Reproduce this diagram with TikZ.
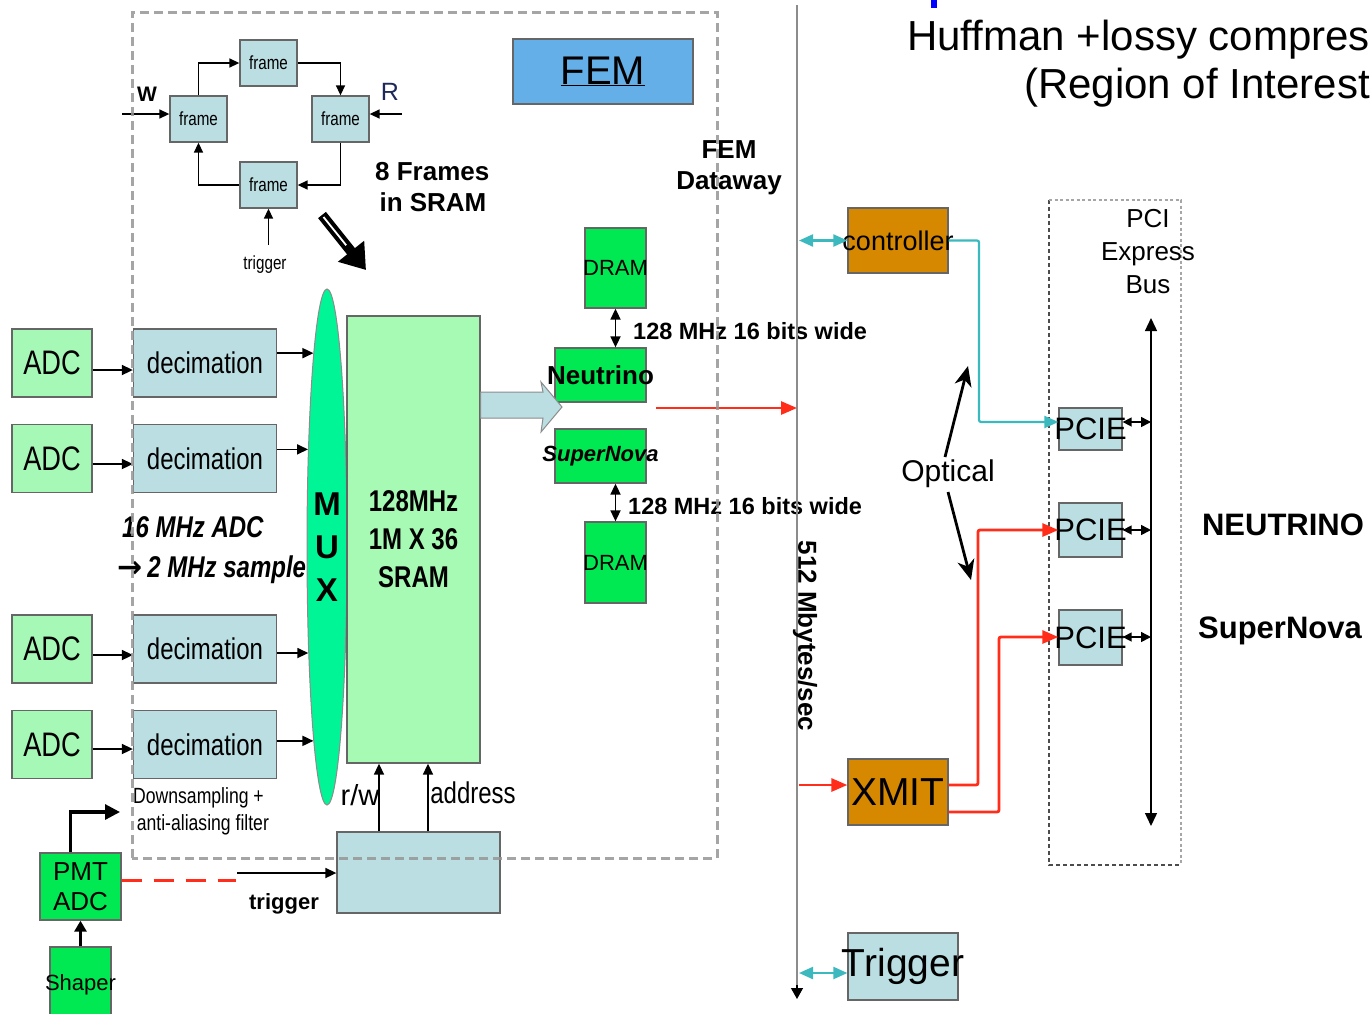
\documentclass[tikz,border=0pt]{standalone}
\usepackage{fontspec}
\setmainfont{Liberation Sans}
\newfontfamily\narrow[FakeStretch=0.8]{Liberation Sans}
\newfontfamily\dejavu{DejaVu Sans}
\usetikzlibrary{arrows.meta,shapes.geometric,calc}
\definecolor{adcg}{RGB}{166,248,182}
\definecolor{decb}{RGB}{186,222,226}
\definecolor{muxg}{RGB}{0,245,150}
\definecolor{sramg}{RGB}{166,250,180}
\definecolor{brg}{RGB}{0,232,82}
\definecolor{femb}{RGB}{100,175,232}
\definecolor{orn}{RGB}{214,136,0}
\definecolor{tealc}{RGB}{60,185,190}
\definecolor{redc}{RGB}{255,45,25}
\definecolor{dashg}{RGB}{150,150,150}
\newcommand{\fs}[2]{\fontsize{#1}{#2}\selectfont}
\newcommand{\ov}[1]{\makebox[0pt]{#1}}
\begin{document}
\begin{tikzpicture}[x=1pt,y=-1pt,
  bx/.style={draw=black!60, line width=1.3pt, inner sep=0pt, align=center, text=black},
  fr/.style={bx, fill=decb, minimum width=57pt, minimum height=46pt, font=\narrow\fs{19}{22}},
  adc/.style={bx, fill=adcg, minimum width=80pt, minimum height=68pt, font=\narrow\fs{34}{38}},
  dec/.style={bx, fill=decb, minimum width=143pt, minimum height=68pt, font=\narrow\fs{30}{34}},
  grn/.style={bx, fill=brg},
  org/.style={bx, fill=orn},
  pcie/.style={bx, fill=decb, minimum width=63pt, font=\fs{31}{34}},
  lbl/.style={inner sep=0pt, align=center, text=black},
  arr/.style={line width=1.7pt, -{Triangle[length=11pt,width=10pt]}},
  farr/.style={line width=1.5pt, -{Triangle[length=10pt,width=9pt]}},
  darr/.style={line width=1.7pt, {Triangle[length=11pt,width=10pt]}-{Triangle[length=11pt,width=10pt]}},
  sdarr/.style={line width=1.5pt, {Triangle[length=9pt,width=9pt]}-{Triangle[length=10pt,width=10pt]}},
  tarr/.style={line width=2.2pt, draw=tealc, -{Triangle[length=14pt,width=12pt]}},
  tdarr/.style={line width=2.2pt, draw=tealc, {Triangle[length=14pt,width=12pt]}-{Triangle[length=14pt,width=12pt]}},
  rarr/.style={line width=2.8pt, draw=redc, -{Triangle[length=16pt,width=13pt]}},
  oarr/.style={line width=2.8pt, -{Stealth[length=20pt,width=17pt,inset=6pt]}}
]
\useasboundingbox[fill=white] (0,0) rectangle (1370,1013);

% top right text
\fill[blue] (931,0) rectangle (937,8);
\node[lbl, anchor=base east, font=\fs{42}{46}] (huf1) at (1370,50) {Huffman +lossy compres};
\node[lbl, anchor=base east, font=\fs{42}{46}] (huf2) at (1370,98) {(Region of Interest};

% FEM
\node[bx, fill=femb, minimum width=180pt, minimum height=65pt, font=\fs{40}{44}] (fem) at (603,71.5) {\underline{FEM}};

% frame ring
\node[fr] (frT) at (268.5,63) {frame};
\node[fr] (frL) at (198.5,119) {frame};
\node[fr] (frR) at (340.5,119) {frame};
\node[fr] (frB) at (268.5,185) {frame};
\draw[farr] (frL.north) |- (frT.west);
\draw[farr] (frT.east) -| (frR.north);
\draw[farr] (frR.south) |- (frB.east);
\draw[farr] (frB.west) -| (frL.south);
\coordinate (win) at (122,114);
\coordinate (rin) at (402,114);
\draw[farr] (win) -- (frL.west |- win);
\draw[farr] (rin) -- (frR.east |- rin);
\node[lbl, font=\bfseries\fs{21}{24}] (wl) at (147,94) {W};
\node[lbl, font=\fs{25}{28}, text={rgb,255:red,30;green,40;blue,90}] (rl) at (390,92) {R};
\node[lbl, font=\narrow\fs{19}{22}] (trig1) at (265,265) {trigger};
\draw[farr] (frB.south |- 0,245) -- (frB.south);
\node[lbl, anchor=west, align=left, font=\bfseries\fs{26}{31}] (frames) at (375,187) {8 Frames\\\,in SRAM};
% big arrow
\coordinate (ba1) at (322,215);
\coordinate (ba2) at (366,270);
\draw[line width=10pt, -{Triangle[length=24pt,width=32pt]}] (ba1) -- (ba2);
\draw[white, line width=1.8pt] ($(ba1)+(1.5,2)$) -- ($(ba1)!0.55!(ba2)$);

% ADC and decimation
\foreach \i/\y/\ya/\yb in {1/363/370/370, 2/458.5/464/452, 3/649/655/655, 4/744.5/749/738}{
  \node[adc] (adc\i) at (52,\y) {ADC};
  \node[dec] (dec\i) at (205,\y) {decimation};
  \draw[arr] (adc\i.east |- 0,\ya) -- (dec\i.west |- 0,\ya);
}
% MUX
\node[ellipse, draw=black!45, line width=1pt, fill=muxg, minimum width=40pt, minimum height=516pt, inner sep=0pt, align=center, font=\bfseries\fs{33}{43}] (mux) at (327,547) {M\\U\\X};
\draw[arr] (dec1.east |- mux.94.72) -- (mux.94.72);
\draw[arr] (dec2.east |- mux.101.1) -- (mux.101.1);
\draw[arr] (dec3.east |- mux.260.4) -- (mux.260.4);
\draw[arr] (dec4.east |- mux.266) -- (mux.266);

% SRAM
\node[bx, fill=sramg, minimum width=133pt, minimum height=447pt, font=\narrow\bfseries\fs{30}{38}] (sram) at (413.5,539.5) {128MHz\\1M X 36\\SRAM};

% labels
\node[lbl, anchor=west, align=left, font=\narrow\bfseries\itshape\fs{30}{40}] (mhz) at (117,550) {\,16 MHz ADC\\{\dejavu\fs{30}{30}→}\,2 MHz sample};
\node[lbl, anchor=west, align=left, font=\narrow\fs{22}{27}] (down) at (133,811) {Downsampling +\\\,anti-aliasing filter};

% DRAM / Neutrino / SuperNova
\node[grn, minimum width=61pt, minimum height=80pt, font=\fs{22}{24}] (dram1) at (615.5,268) {\ov{DRAM}};
\node[grn, minimum width=91pt, minimum height=54pt, font=\bfseries\fs{26}{28}] (neut) at (600.5,375) {\ov{Neutrino}};
\node[grn, minimum width=91pt, minimum height=54pt, font=\bfseries\itshape\fs{22}{24}] (sn) at (600.5,456) {\ov{SuperNova}};
\node[grn, minimum width=61pt, minimum height=81pt, font=\fs{22}{24}] (dram2) at (615.5,562.5) {\ov{DRAM}};
\draw[darr] (dram1.south) -- (dram1.south |- neut.north);
\draw[darr] (dram2.north |- sn.south) -- (dram2.north);
\node[lbl, anchor=west, font=\bfseries\fs{23.5}{26}] (bw1) at (633,331) {128 MHz 16 bits wide};
\node[lbl, anchor=west, font=\bfseries\fs{23.5}{26}] (bw2) at (628,506) {128 MHz 16 bits wide};

% block arrow SRAM -> Neutrino
\draw[draw=black!45, line width=1pt, fill=decb] (sram.east |- 0,392) -- (543,392) -- (541,382) -- (562,407) -- (541,432) -- (543,418) -- (sram.east |- 0,418) -- cycle;

% FEM dataway and vertical bus
\node[lbl, font=\bfseries\fs{26}{31}] (dw) at (729,168) {FEM\\Dataway};
\coordinate (vt) at (797,5);
\coordinate (vb) at (797,999);
\draw[line width=2.6pt, draw=black!45] (vt) -- ($(vb)+(0,-10)$);
\draw[line width=1.2pt, -{Triangle[length=11pt,width=12pt]}] ($(vb)+(0,-14)$) -- (vb);
\node[lbl, rotate=-90, font=\bfseries\fs{26}{28}] (mbs) at (805,636) {512 Mbytes/sec};
\coordinate (nr) at (656,408);
\draw[rarr] (nr) -- (nr -| vt);

% right side
\node[org, minimum width=100pt, minimum height=65pt, font=\fs{27}{30}] (ctrl) at (898,240.5) {\ov{controller}};
\node[org, minimum width=100pt, minimum height=66pt, font=\fs{39}{42}] (xmit) at (898,792) {XMIT};
\node[bx, fill=decb, minimum width=110pt, minimum height=67pt, font=\fs{39}{42}] (trigb) at (903,966.5) {\ov{Trigger}};
\draw[tdarr] ($(vt |- ctrl.west)+(2,0)$) -- (ctrl.west);
\draw[tdarr] ($(vt |- 0,973)+(2,0)$) -- (trigb.west |- 0,973);
\draw[rarr] ($(vt |- 0,785)+(2,0)$) -- (xmit.west |- 0,785);

% PCI express bus
\draw[line width=1.4pt, draw=black!70, dash pattern=on 4pt off 3pt] (1049,200) -- (1049,865) -- (1181,865);
\draw[line width=2.4pt, draw=black!35, dash pattern=on 3pt off 2.5pt] (1049,200) -- (1181,200) -- (1181,865);
\node[lbl, font=\fs{26}{33}] (pcib) at (1148,252) {PCI\\Express\\Bus};
\coordinate (bt) at (1151,318);
\coordinate (bb) at (1151,826);
\draw[line width=1.4pt, {Triangle[length=13pt,width=12pt]}-{Triangle[length=13pt,width=12pt]}] (bt) -- (bb);
\node[pcie, minimum height=42pt] (p1) at (1090.5,429) {\ov{PCIE}};
\node[pcie, minimum height=54pt] (p2) at (1090.5,530) {\ov{PCIE}};
\node[pcie, minimum height=55pt] (p3) at (1090.5,637.5) {\ov{PCIE}};
\draw[sdarr] (p1.east |- 0,422) -- (bt |- 0,422);
\draw[sdarr] (p2.east) -- (bt |- p2.east);
\draw[sdarr] (p3.east |- 0,637) -- (bt |- 0,637);
\draw[tarr, rounded corners=2pt] (ctrl.east) -- (979,240.5) |- (p1.west |- 0,422);
\draw[rarr, rounded corners=2pt] (xmit.east |- 0,785) -- (978,785) |- (p2.west);
\draw[rarr, rounded corners=2pt] (xmit.east |- 0,812) -- (999,812) |- (p3.west |- 0,637);
\node[lbl, font=\bfseries\fs{31}{34}] (neutl) at (1283,525) {NEUTRINO};
\node[lbl, font=\bfseries\fs{31}{34}] (snl) at (1280,631) {SuperNova};
\node[lbl, font=\fs{30}{34}] (opt) at (948,474) {Optical};
\draw[oarr] (945,457) -- (968,366);
\draw[oarr] (948,492) -- (971,580);

% bottom left
\node[grn, minimum width=81pt, minimum height=67pt, font=\fs{26}{30}] (pmt) at (80.5,886.5) {PMT\\ADC};
\node[grn, minimum width=61pt, minimum height=76pt, font=\fs{22}{24}] (shp) at (80.5,985) {\ov{Shaper}};
\draw[line width=2.8pt, -{Triangle[length=11pt,width=12pt]}] (shp.north) -- (pmt.south);
\draw[line width=3.2pt, -{Triangle[length=15pt,width=15pt]}] ([xshift=-10pt]pmt.north) |- (120,812);
\node[bx, fill=decb, minimum width=163pt, minimum height=81pt] (ctlb) at (418.5,872.5) {};
\draw[line width=3pt, draw=redc, dash pattern=on 20pt off 12pt] (pmt.east |- 0,880) -- (236,880);
\draw[arr] (237,873) -- (ctlb.west |- 0,873);
\node[lbl, font=\bfseries\fs{22}{24}] (trig2) at (284,904) {trigger};
\draw[arr] (ctlb.north -| 379,0) -- (sram.south -| 379,0);
\draw[arr] (ctlb.north -| 428,0) -- (sram.south -| 428,0);
\node[lbl, font=\fs{29}{32}] (rw) at (360,795) {r/w};
\node[lbl, font=\narrow\fs{30}{32}] (addr) at (473,793) {address};

% FEM dashed boundary
\draw[line width=3pt, draw=dashg, opacity=0.85, dash pattern=on 9pt off 5pt] (132,858) -- (132,12) -- (717,12) -- (717,858) -- cycle;
\end{tikzpicture}
\end{document}
